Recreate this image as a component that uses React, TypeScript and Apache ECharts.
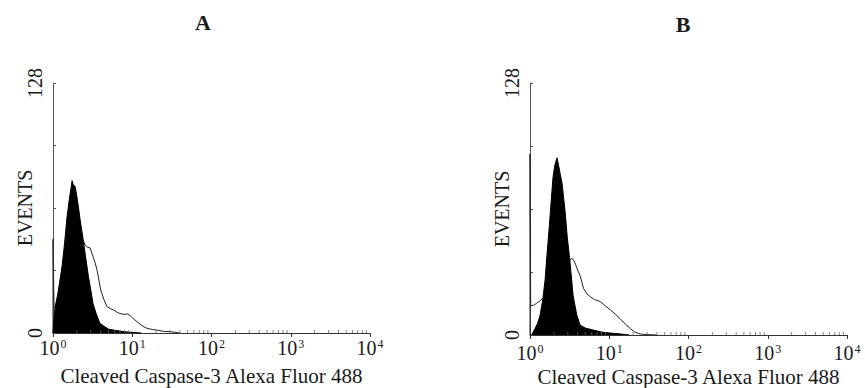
import React, { useEffect, useRef } from "react";
import * as echarts from "echarts";

// Panel A – filled (control) and open (treated) histograms
const aFillX = [1.0, 1.06, 1.15, 1.3, 1.4, 1.5, 1.6, 1.7, 1.74, 1.8, 1.9, 2.0, 2.1, 2.2, 2.4, 2.6, 2.8, 3.0, 3.2, 3.5, 3.9, 4.4, 5.0, 5.8, 7.0, 8.6, 10.5, 13];
const aFillY = [0, 13, 20, 34, 46, 59, 68, 75, 78, 76, 75, 70, 64, 58, 48, 38, 29, 22, 15, 10, 5, 3.5, 2, 1.5, 1, 0.5, 0.3, 0];
const aOpenX = [1.0, 1.0, 1.03, 1.1, 1.2, 1.3, 1.5, 1.7, 1.9, 2.1, 2.3, 2.4, 2.55, 2.7, 2.95, 3.2, 3.4, 3.6, 3.8, 4.0, 4.4, 4.8, 5.3, 5.8, 6.5, 7.0, 7.9, 8.6, 9.4, 10.2, 11.5, 13, 15.3, 18, 20.5, 25, 30, 40];
const aOpenY = [0, 48, 13, 14, 17, 20, 28, 36, 42, 46, 47, 47.5, 45, 44, 43.5, 39, 36, 32, 27, 22, 17, 13.5, 12.5, 11.8, 10.5, 10, 9.5, 9.8, 9, 7.5, 5.8, 4, 2.4, 1.8, 1.5, 0.8, 0.7, 0];

// Panel B
const bFillX = [1.0, 1.05, 1.15, 1.25, 1.34, 1.45, 1.55, 1.64, 1.75, 1.85, 1.95, 2.05, 2.19, 2.3, 2.4, 2.54, 2.65, 2.77, 2.95, 3.2, 3.5, 3.9, 4.3, 5.0, 6.3, 8.0, 10.3, 14, 18];
const bFillY = [0, 0, 3, 6, 10, 18, 28, 41, 55, 68, 80, 86, 90, 86, 82, 77, 70, 63, 50, 37, 20, 10, 5, 3.5, 2.5, 1.5, 1, 0.5, 0];
const bOpenX = [1.0, 1.0, 1.02, 1.1, 1.2, 1.3, 1.6, 2.0, 2.5, 2.9, 3.2, 3.37, 3.55, 3.75, 3.9, 4.3, 4.73, 5.2, 5.75, 6.5, 7.7, 8.8, 10.3, 12, 13.7, 16, 18.5, 21, 24.7, 30, 40];
const bOpenY = [0, 92, 15, 15, 16, 17, 20, 25, 31, 36, 38, 39, 38, 36, 34, 30, 23.7, 21, 19.5, 18, 17, 15, 12.8, 10.5, 8.3, 5.5, 3.2, 1.5, 0.5, 0.2, 0];

// Axis ticks
const xTickExponents = [0, 1, 2, 3, 4];
const minorTickValues = [2, 3, 4, 5, 6, 7, 8, 9, 20, 30, 40, 50, 60, 70, 80, 90, 200, 300, 400, 500, 600, 700, 800, 900, 2000, 3000, 4000, 5000, 6000, 7000, 8000, 9000];
const yTickLabels = [0, 128];

const panelTitles = ["A", "B"];
const xAxisName = "Cleaved Caspase-3 Alexa Fluor 488";
const yAxisName = "EVENTS";

const FONT = '"Liberation Serif", "Times New Roman", serif';
const INK = "#1a1a1a";

const pairs = (xs: number[], ys: number[]) => xs.map((x, i) => [x, ys[i]]);

export default function App() {
  const ref = useRef<HTMLDivElement>(null);
  useEffect(() => {
    if (!ref.current) return;
    const chart = echarts.init(ref.current, undefined, { renderer: "svg" });

    const labelFmt = (v: number) => {
      const e = Math.round(Math.log10(v));
      return xTickExponents.includes(e) ? `{b|10}{s|${e}}` : "";
    };
    const rich = {
      b: { fontFamily: FONT, fontSize: 20, color: INK, lineHeight: 20 },
      s: { fontFamily: FONT, fontSize: 12, color: INK, verticalAlign: "top", lineHeight: 12, padding: [0, 0, 0, 1] },
    };

    const mkX = (gi: number, margin: number, nameGap: number) => ({
      type: "log",
      gridIndex: gi,
      logBase: 10,
      min: 1,
      max: 10000,
      axisLine: { lineStyle: { color: "#333", width: 1 } },
      axisTick: { show: true, inside: false, length: 4, lineStyle: { color: "#333" } },
      splitLine: { show: false },
      axisLabel: { margin, formatter: labelFmt, rich, color: INK, hideOverlap: false },
      name: xAxisName,
      nameLocation: "middle",
      nameGap,
      nameMoveOverlap: false,
      nameTextStyle: { fontFamily: FONT, fontSize: 21, color: INK },
    });
    const mkY = (gi: number) => ({
      type: "value",
      gridIndex: gi,
      min: 0,
      max: 128,
      interval: 32,
      axisLine: { show: true, lineStyle: { color: "#555", width: 1 } },
      axisTick: { show: true, inside: true, length: 3, lineStyle: { color: "#555" } },
      splitLine: { show: false },
      axisLabel: {
        rotate: 90,
        margin: 8,
        fontFamily: FONT,
        fontSize: 20,
        color: INK,
        formatter: (v: number) => (yTickLabels.includes(v) ? String(v) : ""),
      },
      name: yAxisName,
      nameLocation: "middle",
      nameRotate: 90,
      nameGap: 18,
      nameMoveOverlap: false,
      nameTextStyle: { fontFamily: FONT, fontSize: 20, color: INK },
    });

    const openLine = (xi: number, xs: number[], ys: number[]) => ({
      type: "line",
      xAxisIndex: xi,
      yAxisIndex: xi,
      data: pairs(xs, ys),
      symbol: "none",
      lineStyle: { color: "#222", width: 1 },
      silent: true,
      z: 2,
    });
    const fillLine = (xi: number, xs: number[], ys: number[]) => ({
      type: "line",
      xAxisIndex: xi,
      yAxisIndex: xi,
      data: pairs(xs, ys),
      symbol: "none",
      lineStyle: { color: "#000", width: 1 },
      areaStyle: { color: "#000", opacity: 1 },
      silent: true,
      z: 3,
    });
    const minorTicks = (xi: number) => ({
      type: "scatter",
      xAxisIndex: xi,
      yAxisIndex: xi,
      data: minorTickValues.map((v) => [v, 0]),
      symbol: "rect",
      symbolSize: [1, 3],
      symbolOffset: [0, -1.5],
      itemStyle: { color: "#666" },
      silent: true,
      z: 4,
    });

    const titleText = (t: string, x: number, y: number) => ({
      type: "text",
      x,
      y,
      style: {
        text: t,
        font: `bold 22px ${FONT}`,
        fill: INK,
        align: "center",
        verticalAlign: "middle",
        textAlign: "center",
        textVerticalAlign: "middle",
      },
    });

    chart.setOption({
      animation: false,
      backgroundColor: "#ffffff",
      grid: [
        { left: 53, top: 83, width: 317, height: 250, outerBoundsMode: "none", containLabel: false },
        { left: 530, top: 83, width: 317, height: 252, outerBoundsMode: "none", containLabel: false },
      ],
      xAxis: [mkX(0, 5, 32), mkX(1, 8, 31)],
      yAxis: [mkY(0), mkY(1)],
      series: [
        openLine(0, aOpenX, aOpenY),
        fillLine(0, aFillX, aFillY),
        minorTicks(0),
        openLine(1, bOpenX, bOpenY),
        fillLine(1, bFillX, bFillY),
        minorTicks(1),
      ],
      graphic: [titleText(panelTitles[0], 203, 22), titleText(panelTitles[1], 683, 24)],
    });
    return () => chart.dispose();
  }, []);
  return (
    <div
      ref={ref}
      style={{ position: "fixed", left: 0, top: 0, width: 865, height: 388, background: "#fff" }}
    />
  );
}
